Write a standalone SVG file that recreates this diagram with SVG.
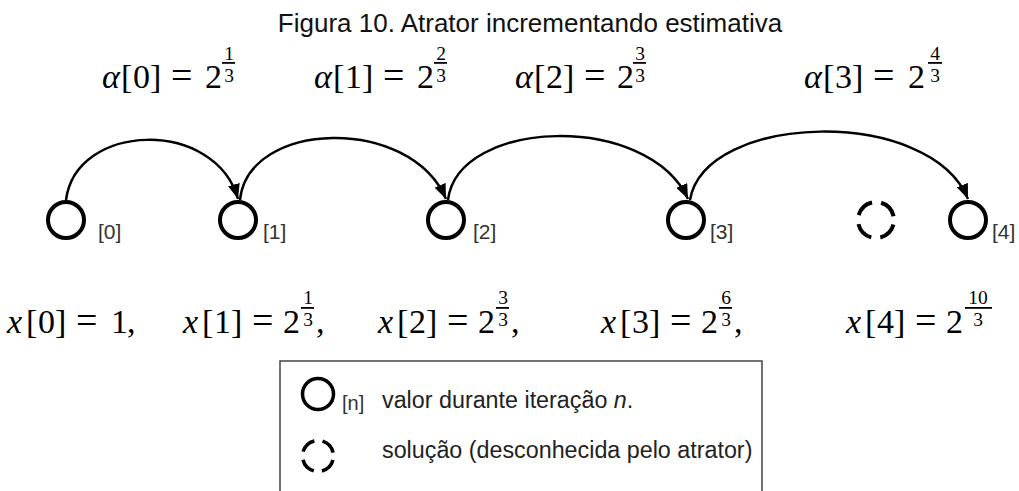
<svg xmlns="http://www.w3.org/2000/svg" width="1019" height="491" viewBox="0 0 1019 491">
<defs>
<style>
.t{font-family:"Liberation Sans",Arial,sans-serif;font-size:26px;fill:#111}
.m{font-family:"Liberation Serif","Times New Roman",serif;font-size:34px;fill:#000}
.i{font-style:italic}
.eq{font-size:38px}
.f{font-family:"Liberation Serif","Times New Roman",serif;font-size:19.5px;fill:#000;text-anchor:middle}
.lbl{font-family:"Liberation Sans",Arial,sans-serif;font-size:21px;fill:#333}
.lg{font-family:"Liberation Sans",Arial,sans-serif;font-size:23.3px;fill:#222}
.node{fill:none;stroke:#000;stroke-width:4}
.dash{stroke-dasharray:19 9.27;stroke-dashoffset:23.6}
.ldash{fill:none;stroke:#000;stroke-width:3.5;stroke-dasharray:16 8.35;stroke-dashoffset:20.2}
.arc{fill:none;stroke:#000;stroke-width:2.5;marker-end:url(#ah)}
</style>
<marker id="ah" markerUnits="userSpaceOnUse" markerWidth="16" markerHeight="12" viewBox="0 0 16 12" refX="15" refY="6" orient="auto">
<path d="M0,0 L15,6 L0,12 z" fill="#000"/>
</marker>
</defs>
<rect width="1019" height="491" fill="#fff"/>

<text class="t" x="530" y="32" text-anchor="middle">Figura 10. Atrator incrementando estimativa</text>

<g id="alphas">
<text class="m" y="88"><tspan class="i" x="102">α</tspan><tspan x="121">[</tspan><tspan x="133">0</tspan><tspan x="150">]</tspan><tspan class="eq" x="171">=</tspan><tspan x="205">2</tspan></text>
<text class="f" x="229" y="60">1</text><rect x="222" y="62" width="13" height="1.8"/><text class="f" x="229" y="82">3</text>

<text class="m" y="88"><tspan class="i" x="314">α</tspan><tspan x="333">[</tspan><tspan x="345">1</tspan><tspan x="362">]</tspan><tspan class="eq" x="383">=</tspan><tspan x="417">2</tspan></text>
<text class="f" x="441" y="60">2</text><rect x="434" y="62" width="13" height="1.8"/><text class="f" x="441" y="82">3</text>

<text class="m" y="88"><tspan class="i" x="515">α</tspan><tspan x="534">[</tspan><tspan x="546">2</tspan><tspan x="563">]</tspan><tspan class="eq" x="584">=</tspan><tspan x="617">2</tspan></text>
<text class="f" x="640" y="60">3</text><rect x="633" y="62" width="13" height="1.8"/><text class="f" x="640" y="82">3</text>

<text class="m" y="88"><tspan class="i" x="804">α</tspan><tspan x="823">[</tspan><tspan x="835">3</tspan><tspan x="852">]</tspan><tspan class="eq" x="873">=</tspan><tspan x="908">2</tspan></text>
<text class="f" x="935" y="60">4</text><rect x="928" y="62" width="14" height="1.8"/><text class="f" x="935" y="82">3</text>
</g>

<g id="connectors">
<path class="arc" d="M66,200 C76,122 215,118 238,199"/>
<path class="arc" d="M240,200 C248,120 410,115 446,199"/>
<path class="arc" d="M448,200 C458,118 648,112 688,199"/>
<path class="arc" d="M690,200 C705,112 930,106 968,199"/>
</g>

<g id="node0"><circle class="node" cx="66" cy="220" r="18"/><text class="lbl" x="98" y="239">[0]</text></g>
<g id="node1"><circle class="node" cx="238" cy="220" r="18"/><text class="lbl" x="263" y="239">[1]</text></g>
<g id="node2"><circle class="node" cx="446" cy="220" r="18"/><text class="lbl" x="473" y="239">[2]</text></g>
<g id="node3"><circle class="node" cx="686" cy="220" r="18"/><text class="lbl" x="710" y="239">[3]</text></g>
<g id="solution"><circle class="node dash" cx="876" cy="220" r="18"/></g>
<g id="node4"><circle class="node" cx="968" cy="220" r="18"/><text class="lbl" x="992" y="239">[4]</text></g>

<g id="xs">
<text class="m" y="333"><tspan class="i" x="7">x</tspan><tspan x="26">[</tspan><tspan x="38">0</tspan><tspan x="55">]</tspan><tspan class="eq" x="76">=</tspan><tspan x="111">1</tspan><tspan x="127">,</tspan></text>

<text class="m" y="333"><tspan class="i" x="183">x</tspan><tspan x="202">[</tspan><tspan x="214">1</tspan><tspan x="231">]</tspan><tspan class="eq" x="252">=</tspan><tspan x="283">2</tspan><tspan x="316">,</tspan></text>
<text class="f" x="308" y="304">1</text><rect x="301" y="307" width="13" height="1.8"/><text class="f" x="308" y="326">3</text>

<text class="m" y="333"><tspan class="i" x="378">x</tspan><tspan x="397">[</tspan><tspan x="409">2</tspan><tspan x="426">]</tspan><tspan class="eq" x="447">=</tspan><tspan x="478">2</tspan><tspan x="511">,</tspan></text>
<text class="f" x="503" y="304">3</text><rect x="496" y="307" width="13" height="1.8"/><text class="f" x="503" y="326">3</text>

<text class="m" y="333"><tspan class="i" x="601">x</tspan><tspan x="620">[</tspan><tspan x="632">3</tspan><tspan x="649">]</tspan><tspan class="eq" x="670">=</tspan><tspan x="701">2</tspan><tspan x="734">,</tspan></text>
<text class="f" x="726" y="304">6</text><rect x="719" y="307" width="13" height="1.8"/><text class="f" x="726" y="326">3</text>

<text class="m" y="333"><tspan class="i" x="846">x</tspan><tspan x="865">[</tspan><tspan x="877">4</tspan><tspan x="894">]</tspan><tspan class="eq" x="915">=</tspan><tspan x="946">2</tspan></text>
<text class="f" x="978" y="304">10</text><rect x="965" y="307" width="27" height="1.8"/><text class="f" x="978" y="326">3</text>
</g>

<g id="legend">
<path d="M280,491 V361 H762 V491" fill="none" stroke="#444" stroke-width="1.5"/>
<circle cx="318" cy="394" r="15.5" fill="none" stroke="#000" stroke-width="3.5"/>
<text class="lbl" x="342" y="410" style="font-size:20px">[n]</text>
<text class="lg" x="382" y="408">valor durante iteração <tspan font-style="italic">n</tspan>.</text>
<circle class="ldash" cx="318" cy="456" r="15.5"/>
<text class="lg" x="382" y="458">solução (desconhecida pelo atrator)</text>
</g>
</svg>
